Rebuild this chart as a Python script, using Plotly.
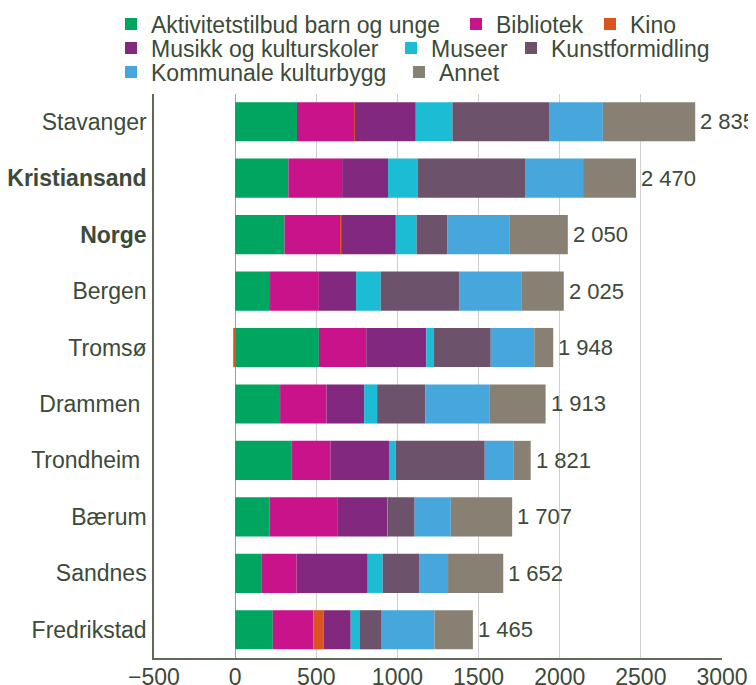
import plotly.graph_objects as go

categories = ["Stavanger", "Kristiansand", "Norge", "Bergen", "Tromsø",
              "Drammen", "Trondheim", "Bærum", "Sandnes", "Fredrikstad"]
series_names = ["Aktivitetstilbud barn og unge", "Bibliotek", "Kino",
                "Musikk og kulturskoler", "Museer", "Kunstformidling",
                "Kommunale kulturbygg", "Annet"]
aktivitetstilbud = [381, 328, 304, 215, 516, 277, 349, 212, 161, 232]
bibliotek        = [352, 331, 346, 301, 292, 286, 238, 417, 218, 250]
kino             = [5, 0, 6, 0, -12, 0, 0, 0, 0, 63]
musikk           = [375, 283, 334, 229, 370, 232, 361, 310, 438, 167]
museer           = [226, 182, 128, 152, 45, 80, 42, 3, 92, 54]
kunstformidling  = [599, 662, 191, 486, 352, 298, 548, 164, 224, 137]
kommunale        = [328, 358, 384, 384, 268, 393, 176, 223, 179, 325]
annet            = [569, 326, 357, 258, 117, 347, 107, 378, 340, 237]
totals           = [2835, 2470, 2050, 2025, 1948, 1913, 1821, 1707, 1652, 1465]
x_ticks = [-500, 0, 500, 1000, 1500, 2000, 2500, 3000]

series = [aktivitetstilbud, bibliotek, kino, musikk, museer, kunstformidling, kommunale, annet]
colors = ["#00a55f", "#c8138a", "#d9541e", "#82297f", "#1cbcd4", "#6d526b", "#47a7dd", "#888073"]

TXT = "#3c4a38"
FONT = "Liberation Sans, Arial, sans-serif"
FS = 23

# page has an 8px body margin; figure is sized so it ends at the window edge
OFF = 8
W, H = 756 - OFF, 685 - OFF

# legend placement in window pixels: (text start x, row center y)
leg_pos = [(151, 24), (496, 24), (630, 24),
           (151, 48), (431, 48), (551, 48),
           (151, 72), (439, 72)]

fig = go.Figure()
for i, (name, vals, col) in enumerate(zip(series_names, series, colors)):
    lname = "legend" if i == 0 else f"legend{i+1}"
    fig.add_trace(go.Bar(
        y=categories, x=vals, name=name, orientation="h",
        marker=dict(color=col, line=dict(width=0)),
        legend=lname,
    ))

legends = {}
for i, (tx, ty) in enumerate(leg_pos):
    lname = "legend" if i == 0 else f"legend{i+1}"
    legends[lname] = dict(
        xref="container", yref="container",
        x=(tx - OFF - 40) / W, y=1 - (ty - OFF) / H,
        xanchor="left", yanchor="middle",
        orientation="h", bgcolor="rgba(0,0,0,0)", borderwidth=0,
        font=dict(size=FS, color=TXT, family=FONT),
        itemclick=False, itemdoubleclick=False,
    )

pos_sums = [sum(v for v in vals if v > 0) for vals in zip(*series)]
for cat, ps, tot in zip(categories, pos_sums, totals):
    fig.add_annotation(
        x=ps, y=cat, text=f"{tot:,}".replace(",", " "),
        showarrow=False, xanchor="left", xshift=3,
        font=dict(size=22, color=TXT, family=FONT),
    )

bold = {"Kristiansand", "Norge"}
pad = {"Drammen", "Trondheim"}
ticktext = []
for c in categories:
    t = f"<b>{c}</b>" if c in bold else c
    if c in pad:
        t = t + "\u00a0"
    ticktext.append(t)

fig.update_layout(
    width=W, height=H,
    margin=dict(l=154 - OFF, r=34, t=92 - OFF, b=27),
    paper_bgcolor="white", plot_bgcolor="white",
    barmode="relative", bargap=0.306,
    font=dict(family=FONT, size=FS, color=TXT),
    showlegend=True,
    **legends,
)
fig.update_xaxes(
    range=[-500, 3000], tickvals=x_ticks, automargin=False,
    showgrid=True, gridcolor="#cfcfcf", gridwidth=1,
    zeroline=True, zerolinecolor="#a0a0a0", zerolinewidth=1,
    showline=True, linecolor="#5f6b57", linewidth=1.5,
    ticks="", ticklabelstandoff=-2,
    tickfont=dict(size=FS, color=TXT, family=FONT),
)
fig.update_yaxes(
    categoryorder="array", categoryarray=categories,
    tickvals=categories, ticktext=ticktext,
    autorange="reversed", automargin=False,
    showline=True, linecolor="#5f6b57", linewidth=1.5,
    showgrid=False, ticks="", ticklabelstandoff=1,
    tickfont=dict(size=FS, color=TXT, family=FONT),
)

fig.write_html("out.html")
